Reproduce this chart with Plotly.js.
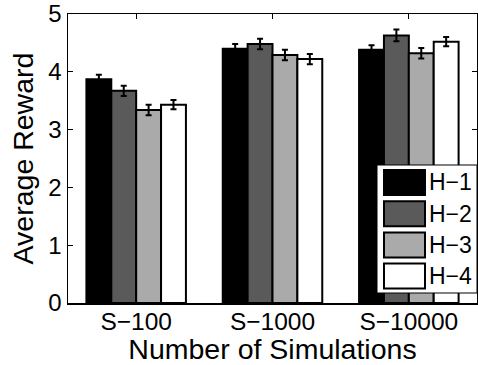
<!DOCTYPE html>
<html><head><meta charset="utf-8">
<script src="https://cdn.plot.ly/plotly-3.0.1.min.js"></script>
<style>html,body{margin:0;padding:0;background:#fff}#c{width:478px;height:365px}</style>
</head><body><div id="c"></div>
<script>
const categories = ["S\u2212100", "S\u22121000", "S\u221210000"];
const seriesNames = ["H\u22121", "H\u22122", "H\u22123", "H\u22124"];
const h1 = [3.87, 4.40, 4.38];
const h2 = [3.67, 4.48, 4.63];
const h3 = [3.34, 4.29, 4.32];
const h4 = [3.43, 4.22, 4.52];
const h1err = [0.08, 0.08, 0.08];
const h2err = [0.09, 0.09, 0.10];
const h3err = [0.09, 0.09, 0.09];
const h4err = [0.08, 0.09, 0.08];
const yTicks = [0, 1, 2, 3, 4, 5];

const colors = ["#000000", "#5a5a5a", "#aaaaaa", "#ffffff"];
const vals = [h1, h2, h3, h4];
const errs = [h1err, h2err, h3err, h4err];
const FONT = "Liberation Sans, Arial, Helvetica, sans-serif";

const traces = vals.map((v, i) => ({
  type: "bar", name: seriesNames[i], x: categories, y: v,
  marker: {color: colors[i], line: {color: "#000", width: 2}},
  error_y: {type: "data", array: errs[i], visible: true, color: "#000", thickness: 2, width: 3},
  showlegend: false
}));

const L = 68, R = 477, T = 14, B = 303;
const px = X => (X - L) / (R - L);
const py = Y => (B - Y) / (B - T);

const shapes = [];
const annotations = [];
shapes.push({type: "rect", xref: "paper", yref: "paper", x0: px(377), x1: px(477), y0: py(293), y1: py(165),
  fillcolor: "#fff", line: {color: "#000", width: 1}});
seriesNames.forEach((n, i) => {
  const top = 170 + i * 31.2;
  shapes.push({type: "rect", xref: "paper", yref: "paper", x0: px(384), x1: px(425), y0: py(top + 25), y1: py(top),
    fillcolor: colors[i], line: {color: "#000", width: 2}});
  annotations.push({xref: "paper", yref: "paper", x: px(427), y: py(top + 12.5), xanchor: "left", yanchor: "middle",
    text: n, showarrow: false, font: {family: FONT, size: 23, color: "#000"}});
});

const layout = {
  width: 478, height: 365,
  margin: {l: L, r: 478 - R, t: T, b: 365 - B},
  paper_bgcolor: "#fff", plot_bgcolor: "#fff",
  barmode: "group", bargap: 0.27, bargroupgap: 0,
  font: {family: FONT, color: "#000"},
  xaxis: {
    range: [-0.5, 2.5], showline: true, linecolor: "#000", linewidth: 1.5, mirror: "ticks",
    ticks: "inside", ticklen: 5, tickcolor: "#000", tickfont: {size: 24.5, family: FONT},
    ticklabelstandoff: -4,
    title: {text: "Number of Simulations", font: {size: 28.5, family: FONT}, standoff: 0},
    showgrid: false, zeroline: false
  },
  yaxis: {
    range: [0, 5], tickvals: yTicks, showline: true, linecolor: "#000", linewidth: 1.5, mirror: "ticks",
    ticks: "inside", ticklen: 5, tickcolor: "#000", tickfont: {size: 24, family: FONT},
    title: {text: "Average Reward", font: {size: 28.5, family: FONT}, standoff: 6},
    showgrid: false, zeroline: false
  },
  shapes: shapes, annotations: annotations
};
Plotly.newPlot("c", traces, layout, {displayModeBar: false, staticPlot: true});
</script></body></html>
